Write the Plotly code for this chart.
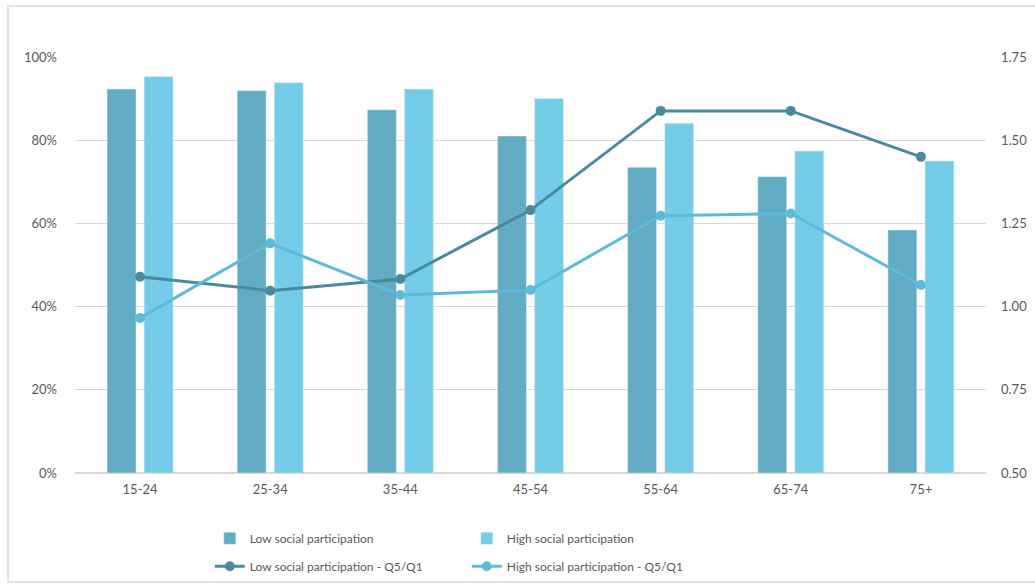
import plotly.graph_objects as go

categories = ["15-24", "25-34", "35-44", "45-54", "55-64", "65-74", "75+"]
low_bars = [92.3, 91.9, 87.3, 81.0, 73.5, 71.2, 58.4]
high_bars = [95.3, 93.8, 92.3, 90.0, 84.1, 77.4, 75.0]
low_ratio = [1.09, 1.048, 1.083, 1.29, 1.588, 1.588, 1.45]
high_ratio = [0.966, 1.19, 1.035, 1.05, 1.273, 1.28, 1.065]
left_ticks = [0, 20, 40, 60, 80, 100]
left_labels = ["0%", "20%", "40%", "60%", "80%", "100%"]
right_ticks = [0.5, 0.75, 1.0, 1.25, 1.5, 1.75]
right_labels = ["0.50", "0.75", "1.00", "1.25", "1.50", "1.75"]

C_LOW_BAR = "#62ACC3"
C_HIGH_BAR = "#74CCE8"
C_LOW_LINE = "#4A8A9E"
C_HIGH_LINE = "#5EBAD9"
GRID = "#D9D9D9"
TXT = "#595959"
FONT = "Lato"

fig = go.Figure()
fig.add_trace(go.Bar(x=categories, y=low_bars, name="Low social participation",
                     marker_color=C_LOW_BAR, legend="legend"))
fig.add_trace(go.Bar(x=categories, y=high_bars, name="High social participation",
                     marker_color=C_HIGH_BAR, legend="legend"))
fig.add_trace(go.Scatter(x=categories, y=low_ratio, name="Low social participation - Q5/Q1",
                         mode="lines+markers", yaxis="y2",
                         line=dict(color=C_LOW_LINE, width=3),
                         marker=dict(color=C_LOW_LINE, size=10), legend="legend2"))
fig.add_trace(go.Scatter(x=categories, y=high_ratio, name="High social participation - Q5/Q1",
                         mode="lines+markers", yaxis="y2",
                         line=dict(color=C_HIGH_LINE, width=3),
                         marker=dict(color=C_HIGH_LINE, size=10), legend="legend2"))

leg_common = dict(orientation="h", xanchor="left", yanchor="middle",
                  entrywidth=212, entrywidthmode="pixels",
                  font=dict(family=FONT, size=12, color=TXT),
                  bgcolor="rgba(0,0,0,0)", tracegroupgap=0, itemwidth=30)

fig.update_layout(
    width=1035, height=585,
    margin=dict(l=75, r=49, t=57, b=112, autoexpand=False),
    paper_bgcolor="white", plot_bgcolor="white",
    font=dict(family=FONT, size=13, color=TXT),
    barmode="group", bargap=0.43, bargroupgap=0.22,
    xaxis=dict(showgrid=False, showline=False, zeroline=False, ticks="",
               ticklabelstandoff=7,
               tickfont=dict(family=FONT, size=13, color=TXT)),
    yaxis=dict(range=[0, 100], tickvals=left_ticks, ticktext=left_labels,
               showgrid=True, gridcolor=GRID, gridwidth=1, zeroline=True,
               zerolinecolor=GRID, showline=False, ticklabelstandoff=17,
               tickfont=dict(family=FONT, size=13, color=TXT)),
    yaxis2=dict(range=[0.5, 1.75], tickvals=right_ticks, ticktext=right_labels,
                overlaying="y", side="right", showgrid=False, zeroline=False,
                showline=False, ticklabelstandoff=14,
                tickfont=dict(family=FONT, size=13, color=TXT)),
    legend=dict(x=0.148, y=-0.157, **leg_common),
    legend2=dict(x=0.148, y=-0.224, **leg_common),
    shapes=[dict(type="rect", xref="paper", yref="paper",
                 x0=-0.0735, x1=1.2, y0=-0.262, y1=1.1226,
                 line=dict(color="#D9D9D9", width=1.5), layer="below")],
    showlegend=True,
)

fig.write_html("out.html")
